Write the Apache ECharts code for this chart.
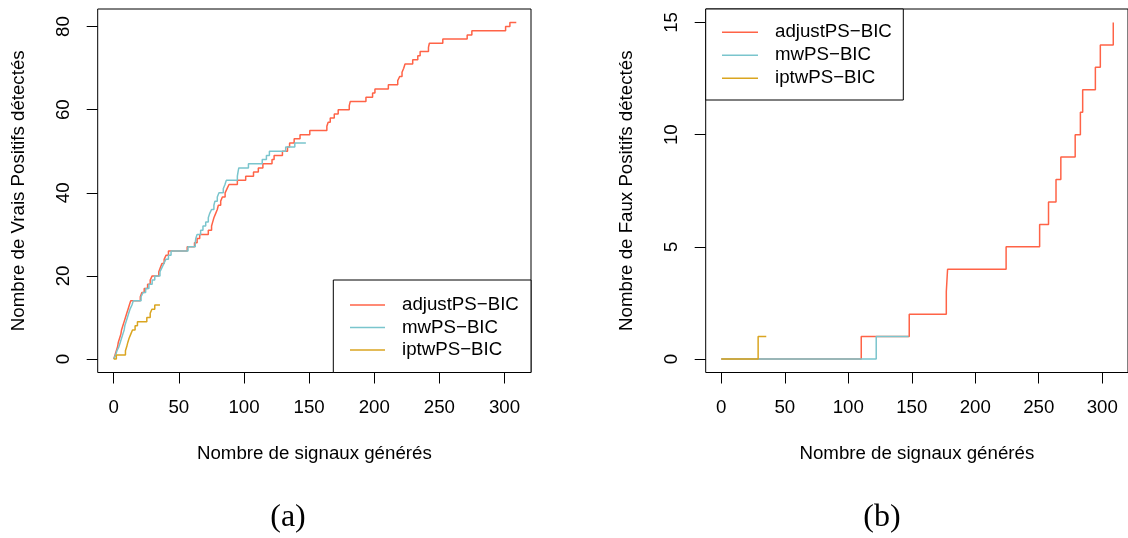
<!DOCTYPE html>
<html>
<head>
<meta charset="utf-8">
<script src="https://cdn.jsdelivr.net/npm/echarts@6/dist/echarts.min.js"></script>
<style>
  html, body { margin: 0; padding: 0; background: #fff; }
  #chart { width: 1128px; height: 538px; }
</style>
</head>
<body>
<div id="chart"></div>
<script>
// ---------- DATA ----------
const seriesNames = ['adjustPS\u2212BIC', 'mwPS\u2212BIC', 'iptwPS\u2212BIC'];
const xTicks = [0, 50, 100, 150, 200, 250, 300];
const yTicksTP = [0, 20, 40, 60, 80];
const yTicksFP = [0, 5, 10, 15];

// Panel (a): true positives (step curves)
const adjustTPx = [0, 1, 2, 3, 3.5, 4.5, 5.5, 6, 7, 8, 9, 10, 11, 12, 13, 20.4, 21.6, 23.4, 26, 28, 29.5, 34.6, 35.8, 37, 38.7, 40.2, 42, 56.4, 62, 64, 66, 72.6, 75.1, 76, 76.9, 78.2, 79.5, 80.3, 82.1, 83.4, 85.5, 87, 88.5, 94.9, 101.3, 107.3, 111, 114.5, 121.5, 123.1, 129.5, 133.4, 135, 138.5, 143, 150.5, 163.6, 164.6, 166.2, 169.3, 172.3, 180.8, 181.6, 193.6, 198.7, 200.5, 210.8, 218, 219.5, 221.3, 222.6, 223.6, 229.5, 233.4, 235.2, 241.6, 242.3, 252.6, 271.3, 274.9, 300.8, 304.1, 309];
const adjustTPy = [0, 1, 2, 3, 4, 5, 6, 7, 8, 9, 10, 11, 12, 13, 14, 15, 16, 17, 18, 19, 20, 21, 22, 23, 24, 25, 26, 27, 28, 29, 30, 31, 32, 33, 34, 35, 36, 37, 38, 39, 40, 41, 42, 43, 44, 45, 46, 47, 48, 49, 50, 51, 52, 53, 54, 55, 56, 57, 58, 59, 60, 61, 62, 63, 64, 65, 66, 67, 68, 69, 70, 71, 72, 73, 74, 75, 76, 77, 78, 79, 80, 81, 81];

const mwTPx = [0, 1.5, 2.5, 4, 5, 6, 7, 8, 8.5, 9.5, 10.5, 11.5, 12.5, 14, 15, 21, 22.5, 24.5, 27, 29.5, 31.5, 35.5, 37, 38.5, 40, 42, 44, 57, 62.6, 63, 64, 66.7, 68.5, 70.6, 72.6, 73.6, 75.1, 76.9, 77.7, 79.5, 80.8, 84.1, 85.4, 86.4, 94.9, 95.4, 96, 103.4, 114, 117.2, 119.5, 132, 139, 147.5];
const mwTPy = [0, 1, 2, 3, 4, 5, 6, 7, 8, 9, 10, 11, 12, 13, 14, 15, 16, 17, 18, 19, 20, 21, 22, 23, 24, 25, 26, 27, 28, 29, 30, 31, 32, 33, 34, 35, 36, 37, 38, 39, 40, 41, 42, 43, 44, 45, 46, 47, 48, 49, 50, 51, 52, 52];

const iptwTPx = [0, 2, 9, 10, 10.8, 11.8, 13.1, 14.4, 16.4, 18.2, 25.4, 28, 29.3, 31.5, 35.5];
const iptwTPy = [0, 1, 2, 3, 4, 5, 6, 7, 8, 9, 10, 11, 12, 13, 13];

// Panel (b): false positives (step curves)
const adjustFPx = [0, 110.2, 148, 177.2, 178.2, 224.3, 250.7, 257.7, 263.6, 267.4, 278.7, 282.8, 284.6, 294.6, 298.5, 308.7];
const adjustFPy = [0, 1, 2, 3, 4, 5, 6, 7, 8, 9, 10, 11, 12, 13, 14, 15];
const mwFPx = [0, 122, 147.5];
const mwFPy = [0, 1, 1];
const iptwFPx = [0, 29, 35.4];
const iptwFPy = [0, 1, 1];

const colors = ['#FF6347', '#7AC5CD', '#DAA520'];

// ---------- CHART ----------
const FONT = '"Liberation Sans", Arial, Helvetica, sans-serif';
const FS = 18.7;
function zip(xs, ys) { return xs.map((x, i) => [x, ys[i]]); }

function xAxisDef(gi) {
  return {
    gridIndex: gi, type: 'value', min: -12.3, max: 320.3,
    splitLine: { show: false },
    axisLine: { show: false, onZero: false },
    axisTick: { show: true, customValues: xTicks, length: 11, lineStyle: { color: '#000', width: 1 } },
    axisLabel: { customValues: xTicks, margin: 25.8, fontSize: FS, fontFamily: FONT, color: '#000', lineHeight: 20 },
    name: 'Nombre de signaux générés', nameLocation: 'middle', nameGap: 71.3,
    nameTextStyle: { fontSize: FS, fontFamily: FONT, color: '#000', lineHeight: 20 }
  };
}
function yAxisDef(gi, min, max, ticks, name) {
  return {
    gridIndex: gi, type: 'value', min: min, max: max,
    splitLine: { show: false },
    axisLine: { show: false, onZero: false },
    axisTick: { show: true, customValues: ticks, length: 11, lineStyle: { color: '#000', width: 1 } },
    axisLabel: { customValues: ticks, rotate: 90, margin: 23.5, fontSize: FS, fontFamily: FONT, color: '#000', lineHeight: 20 },
    name: name, nameLocation: 'middle', nameGap: 69, nameRotate: 90,
    nameTextStyle: { fontSize: FS, fontFamily: FONT, color: '#000', lineHeight: 20 }
  };
}
function lineSeries(name, color, xi, data) {
  return {
    name: name, type: 'line', xAxisIndex: xi, yAxisIndex: xi, step: 'end',
    symbol: 'none', showSymbol: false, silent: true, animation: false,
    lineStyle: { color: color, width: 1.5 }, itemStyle: { color: color },
    data: data
  };
}
function legendDef(left, top, lh, iw) {
  return {
    data: seriesNames, orient: 'vertical', left: left, top: top,
    icon: 'rect', itemWidth: iw, itemHeight: 1.5, itemGap: 0, padding: 0, z: 20,
    selectedMode: false,
    textStyle: { fontSize: FS, fontFamily: FONT, color: '#000', lineHeight: lh, padding: [0, 0, 0, 12] }
  };
}

const chart = echarts.init(document.getElementById('chart'), null, { renderer: 'canvas' });
chart.setOption({
  animation: false,
  backgroundColor: '#fff',
  grid: [
    { left: 97.7, top: 9, width: 433.3, height: 363.5, show: true, borderColor: '#000', borderWidth: 1, backgroundColor: 'transparent' },
    { left: 705.7, top: 9, width: 433.3, height: 363.5, show: true, borderColor: '#000', borderWidth: 1, backgroundColor: 'transparent' }
  ],
  xAxis: [xAxisDef(0), xAxisDef(1)],
  yAxis: [
    yAxisDef(0, -3.24, 84.24, yTicksTP, 'Nombre de Vrais Positifs détectés'),
    yAxisDef(1, -0.6, 15.6, yTicksFP, 'Nombre de Faux Positifs détectés')
  ],
  legend: [legendDef(350, 293.75, 22.5, 35), legendDef(722, 20.8, 23, 36)],
  graphic: [
    { type: 'rect', z: 1, shape: { x: 333.3, y: 280, width: 197.7, height: 92.5 }, style: { fill: '#fff', stroke: '#000', lineWidth: 1 } },
    { type: 'rect', z: 1, shape: { x: 705.7, y: 9, width: 197.6, height: 91 }, style: { fill: '#fff', stroke: '#000', lineWidth: 1 } },
    { type: 'text', z: 1, x: 288, y: 518, style: { text: '(a)', font: '32px "Liberation Serif", "DejaVu Serif", serif', fill: '#000', align: 'center', verticalAlign: 'middle', textAlign: 'center', textVerticalAlign: 'middle' } },
    { type: 'text', z: 1, x: 882, y: 518, style: { text: '(b)', font: '32px "Liberation Serif", "DejaVu Serif", serif', fill: '#000', align: 'center', verticalAlign: 'middle', textAlign: 'center', textVerticalAlign: 'middle' } }
  ],
  series: [
    lineSeries(seriesNames[0], colors[0], 0, zip(adjustTPx, adjustTPy)),
    lineSeries(seriesNames[1], colors[1], 0, zip(mwTPx, mwTPy)),
    lineSeries(seriesNames[2], colors[2], 0, zip(iptwTPx, iptwTPy)),
    lineSeries(seriesNames[0], colors[0], 1, zip(adjustFPx, adjustFPy)),
    lineSeries(seriesNames[1], colors[1], 1, zip(mwFPx, mwFPy)),
    lineSeries(seriesNames[2], colors[2], 1, zip(iptwFPx, iptwFPy))
  ]
});
</script>
</body>
</html>
